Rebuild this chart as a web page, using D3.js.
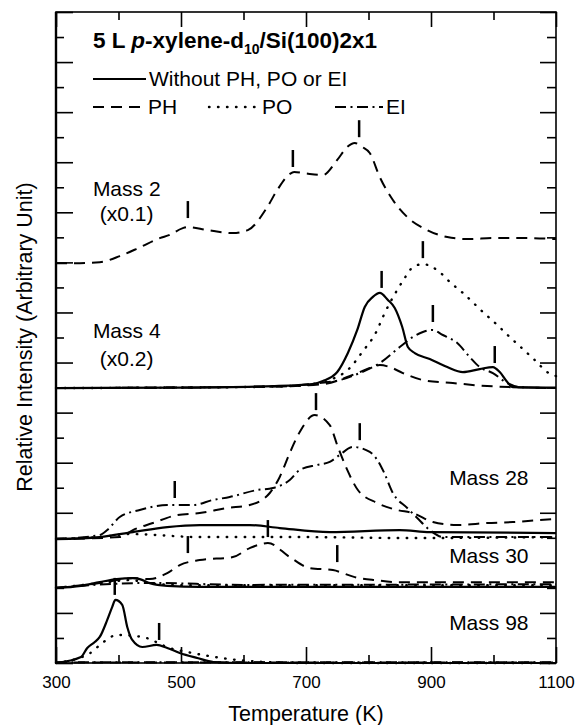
<!DOCTYPE html>
<html>
<head>
<meta charset="utf-8">
<script src="https://cdn.jsdelivr.net/npm/d3@7"></script>
<style>
  body { margin: 0; background: #fff; }
  svg { display: block; font-family: "Liberation Sans", Arial, sans-serif; }
  .curve { fill: none; stroke: #000; stroke-width: 2; stroke-linejoin: round; }
  .solid { stroke-width: 2.2; }
  .ph { stroke-dasharray: 11, 7; }
  .po { stroke-dasharray: 0.5, 8.5; stroke-linecap: round; stroke-width: 2.4; }
  .ei { stroke-dasharray: 11, 4.5, 2, 4.5; }
  .mark { stroke: #000; stroke-width: 2.5; }
  .axis line { stroke: #000; stroke-width: 1.6; }
  .axis text { font-size: 17px; fill: #000; font-family: "Liberation Sans", Arial, sans-serif; }
  .label { font-size: 21px; fill: #000; }
</style>
</head>
<body>
<div id="chart"></div>
<script>
"use strict";

// ---- data (temperature K, relative intensity in axis units) ----
const xTicksMajor = [300, 500, 700, 900, 1100];
const xTicksMinor = [400, 600, 800, 1000];
const yTickValues = [0, 1, 2, 3, 4, 5, 6, 7, 8, 9, 10, 11, 12, 13, 14, 15, 16, 17, 18, 19, 20, 21, 22, 23, 24, 25, 26];

const mass2PH = [[300, 15.97], [330, 15.97], [370, 16.01], [402, 16.25], [434, 16.6], [466, 16.97],
  [482, 17.1], [502, 17.36], [511, 17.41], [542, 17.29], [583, 17.17], [607, 17.29], [638, 18.21],
  [654, 18.89], [674, 19.53], [681, 19.61], [700, 19.55], [727, 19.49], [750, 20.09], [766, 20.61],
  [778, 20.77], [790, 20.61], [802, 20.37], [818, 19.41], [839, 18.49], [862, 17.81], [894, 17.29],
  [926, 17.01], [960, 16.93], [1000, 16.97], [1050, 16.97], [1100, 16.93]];

const mass4Solid = [[300, 10.98], [500, 11.0], [650, 11.06], [710, 11.14], [727, 11.26], [750, 11.62],
  [767, 12.38], [782, 13.3], [794, 14.22], [807, 14.62], [818, 14.78], [831, 14.5], [842, 14.18],
  [854, 13.42], [863, 12.62], [874, 12.38], [898, 12.14], [926, 11.82], [951, 11.62], [978, 11.74],
  [999, 11.82], [1010, 11.62], [1022, 11.22], [1031, 11.02], [1100, 11.0]];
const mass4PH = [[300, 10.98], [650, 11.04], [727, 11.14], [782, 11.58], [802, 11.78], [818, 11.9],
  [834, 11.82], [855, 11.58], [887, 11.3], [935, 11.18], [990, 11.06], [1100, 10.98]];
const mass4PO = [[300, 10.98], [600, 11.02], [700, 11.1], [738, 11.3], [770, 11.78], [790, 12.42],
  [814, 13.3], [823, 13.82], [846, 14.9], [858, 15.38], [871, 15.81], [887, 15.93], [914, 15.61],
  [930, 15.22], [951, 14.78], [983, 14.02], [1006, 13.5], [1026, 13.02], [1047, 12.54],
  [1066, 12.1], [1086, 11.62], [1100, 11.46]];
const mass4EI = [[300, 10.98], [650, 11.04], [722, 11.18], [754, 11.3], [786, 11.58], [818, 11.98],
  [850, 12.62], [871, 13.02], [887, 13.22], [902, 13.3], [919, 13.1], [942, 12.78], [962, 12.22],
  [978, 11.82], [999, 11.58], [1022, 11.18], [1042, 11.02], [1100, 10.98]];

const mass28Solid = [[300, 4.95], [370, 5.03], [423, 5.23], [478, 5.43], [530, 5.51], [610, 5.51],
  [658, 5.39], [738, 5.23], [850, 5.31], [898, 5.23], [1100, 5.19]];
const mass28PH = [[300, 4.95], [402, 5.03], [423, 5.31], [455, 5.59], [494, 5.91], [530, 5.99],
  [574, 6.19], [610, 6.31], [642, 6.79], [658, 7.43], [674, 8.39], [690, 9.23], [714, 9.9],
  [738, 9.5], [751, 8.63], [766, 7.71], [783, 6.91], [814, 6.39], [846, 6.11], [871, 5.99],
  [903, 5.63], [942, 5.51], [990, 5.59], [1031, 5.63], [1074, 5.71], [1100, 5.75]];
const mass28PO = [[300, 4.95], [370, 5.03], [418, 5.15], [530, 5.03], [690, 5.03], [866, 4.99],
  [1100, 5.03]];
const mass28EI = [[300, 4.95], [370, 5.11], [382, 5.31], [402, 5.83], [434, 6.11], [478, 6.31],
  [519, 6.31], [551, 6.51], [578, 6.63], [622, 6.91], [647, 6.99], [674, 7.31], [690, 7.71],
  [718, 7.91], [738, 8.03], [754, 8.31], [775, 8.63], [802, 8.43], [814, 8.11], [825, 7.6],
  [839, 6.79], [862, 6.19], [878, 5.79], [898, 5.31], [919, 5.03], [962, 5.03], [1100, 5.03]];

const mass30Solid = [[300, 3.0], [340, 3.08], [370, 3.23], [397, 3.35], [423, 3.39], [434, 3.35],
  [450, 3.19], [478, 3.08], [530, 3.04], [1100, 3.04]];
const mass30PH = [[300, 3.0], [370, 3.19], [423, 3.39], [450, 3.35], [478, 3.59], [498, 3.91],
  [530, 4.11], [583, 4.23], [610, 4.59], [639, 4.79], [674, 4.23], [706, 3.79], [743, 3.71],
  [778, 3.43], [810, 3.31], [848, 3.23], [1100, 3.23]];
const mass30PO = [[300, 3.0], [370, 3.19], [418, 3.31], [450, 3.19], [500, 3.11], [1100, 3.11]];
const mass30EI = [[300, 3.0], [400, 3.17], [450, 3.2], [600, 3.12], [1100, 3.15]];

const mass98Solid = [[300, 0], [340, 0.24], [350, 0.6], [362, 0.84], [370, 1.04], [382, 1.72],
  [390, 2.24], [395, 2.52], [406, 2.32], [414, 1.44], [422, 0.92], [438, 0.64], [461, 0.72],
  [478, 0.6], [498, 0.4], [526, 0.2], [552, 0.04], [600, 0], [1100, 0]];
const mass98PO = [[300, 0], [355, 0.4], [374, 0.8], [398, 1.12], [438, 1.04], [482, 0.6],
  [518, 0.4], [554, 0.24], [590, 0.12], [634, 0.04], [700, 0], [1100, 0]];
const mass98PH = [[300, 0.02], [1100, 0.02]];
const mass98EI = [[300, 0.03], [1100, 0.03]];

// peak markers: [temperature, bottom of marker in axis units]
const peakMarks = [[511, 17.77], [679, 19.81], [785, 21.0],
  [821, 14.98], [887, 16.17], [903, 13.62], [1002, 11.98],
  [716, 10.1], [786, 8.9], [490, 6.59],
  [511, 4.39], [639, 5.03], [750, 4.03],
  [394, 2.72], [465, 0.92]];

const massLabels = [
  {text: "Mass 2", T: 359, v: 18.67, anchor: "start"},
  {text: "(x0.1)", T: 370, v: 17.67, anchor: "start"},
  {text: "Mass 4", T: 359, v: 13.0, anchor: "start"},
  {text: "(x0.2)", T: 370, v: 11.88, anchor: "start"},
  {text: "Mass 28", T: 1056, v: 7.1, anchor: "end"},
  {text: "Mass 30", T: 1056, v: 4.0, anchor: "end"},
  {text: "Mass 98", T: 1056, v: 1.32, anchor: "end"}
];

// ---- chart ----
const width = 578, height = 725;
const plot = {left: 56, right: 556, top: 12, bottom: 663};

const svg = d3.select("#chart").append("svg")
  .attr("width", width)
  .attr("height", height)
  .attr("viewBox", [0, 0, width, height].join(" "));

const x = d3.scaleLinear().domain([300, 1100]).range([plot.left, plot.right]);
const y = d3.scaleLinear().domain([0, 26]).range([plot.bottom, plot.top]);

// axes (ticks inside the frame)
function addAxis(axis, tx, ty) {
  let g = svg.append("g")
    .attr("class", "axis")
    .attr("transform", `translate(${tx}, ${ty})`)
    .call(axis);
  g.select(".domain").remove();
  return g;
}

addAxis(d3.axisBottom(x).tickValues(xTicksMajor).tickSizeInner(-16).tickSizeOuter(0)
  .tickPadding(13).tickFormat(d3.format("d")), 0, plot.bottom);
addAxis(d3.axisBottom(x).tickValues(xTicksMinor).tickSizeInner(-8).tickSizeOuter(0)
  .tickFormat(""), 0, plot.bottom);
addAxis(d3.axisTop(x).tickValues(xTicksMajor).tickSizeInner(-15).tickSizeOuter(0)
  .tickFormat(""), 0, plot.top);
addAxis(d3.axisTop(x).tickValues(xTicksMinor).tickSizeInner(-8).tickSizeOuter(0)
  .tickFormat(""), 0, plot.top);

let evenTicks = yTickValues.filter(d => d % 2 === 0);
let oddTicks = yTickValues.filter(d => d % 2 === 1);
addAxis(d3.axisLeft(y).tickValues(evenTicks).tickSizeInner(-17).tickSizeOuter(0).tickFormat(""), plot.left, 0);
addAxis(d3.axisLeft(y).tickValues(oddTicks).tickSizeInner(-8).tickSizeOuter(0).tickFormat(""), plot.left, 0);
addAxis(d3.axisRight(y).tickValues(evenTicks).tickSizeInner(-16).tickSizeOuter(0).tickFormat(""), plot.right, 0);
addAxis(d3.axisRight(y).tickValues(oddTicks).tickSizeInner(-9).tickSizeOuter(0).tickFormat(""), plot.right, 0);

// frame
svg.append("rect")
  .attr("x", plot.left)
  .attr("y", plot.top)
  .attr("width", plot.right - plot.left)
  .attr("height", plot.bottom - plot.top)
  .attr("fill", "none")
  .attr("stroke", "#000")
  .attr("stroke-width", 1.6);
svg.append("line")
  .attr("x1", plot.left).attr("x2", plot.left)
  .attr("y1", plot.top).attr("y2", plot.bottom)
  .attr("stroke", "#000").attr("stroke-width", 2.4);

// curves
let line = d3.line()
  .x(d => x(d[0]))
  .y(d => y(d[1]))
  .curve(d3.curveMonotoneX);

let series = [
  [mass2PH, "ph"],
  [mass4PH, "ph"], [mass4PO, "po"], [mass4EI, "ei"], [mass4Solid, "solid"],
  [mass28PO, "po"], [mass28PH, "ph"], [mass28EI, "ei"], [mass28Solid, "solid"],
  [mass30PO, "po"], [mass30EI, "ei"], [mass30PH, "ph"], [mass30Solid, "solid"],
  [mass98PH, "ph"], [mass98EI, "ei"], [mass98PO, "po"], [mass98Solid, "solid"]
];

svg.append("g").selectAll("path")
  .data(series)
  .enter().append("path")
  .attr("class", d => "curve " + d[1])
  .attr("d", d => line(d[0]));

// peak markers
let markLen = 17;
svg.append("g").selectAll("line")
  .data(peakMarks)
  .enter().append("line")
  .attr("class", "mark")
  .attr("x1", d => x(d[0]))
  .attr("x2", d => x(d[0]))
  .attr("y1", d => y(d[1]))
  .attr("y2", d => y(d[1]) - markLen);

// mass labels
svg.append("g").selectAll("text")
  .data(massLabels)
  .enter().append("text")
  .attr("class", "label")
  .attr("x", d => x(d.T))
  .attr("y", d => y(d.v))
  .style("text-anchor", d => d.anchor)
  .text(d => d.text);

// title + legend
let title = svg.append("text")
  .attr("x", 93)
  .attr("y", 48)
  .style("font-size", "22.5px")
  .style("font-weight", "bold");
title.append("tspan").text("5 L ");
title.append("tspan").style("font-style", "italic").text("p");
title.append("tspan").text("-xylene-d");
title.append("tspan").attr("dy", 6).style("font-size", "14px").text("10");
title.append("tspan").attr("dy", -6).text("/Si(100)2x1");

let legendRows = [
  {cls: "solid", x1: 93, x2: 146, y: 79, text: "Without PH, PO or EI", tx: 149},
  {cls: "ph", x1: 93, x2: 146, y: 107, text: "PH", tx: 148},
  {cls: "po", x1: 209, x2: 260, y: 107, text: "PO", tx: 262},
  {cls: "ei", x1: 335, x2: 383, y: 107, text: "EI", tx: 386}
];

let legend = svg.append("g");
legend.selectAll("line")
  .data(legendRows)
  .enter().append("line")
  .attr("class", d => "curve " + d.cls)
  .attr("x1", d => d.x1)
  .attr("x2", d => d.x2)
  .attr("y1", d => d.y)
  .attr("y2", d => d.y);
legend.selectAll("text")
  .data(legendRows)
  .enter().append("text")
  .attr("class", "label")
  .attr("x", d => d.tx)
  .attr("y", d => d.y + 7)
  .text(d => d.text);

// axis titles
svg.append("text")
  .attr("x", (plot.left + plot.right) / 2)
  .attr("y", 721)
  .style("font-size", "21.5px")
  .style("text-anchor", "middle")
  .text("Temperature (K)");

svg.append("text")
  .attr("transform", "translate(32, 337) rotate(-90)")
  .style("font-size", "21.5px")
  .style("text-anchor", "middle")
  .text("Relative Intensity (Arbitrary Unit)");
</script>
</body>
</html>
